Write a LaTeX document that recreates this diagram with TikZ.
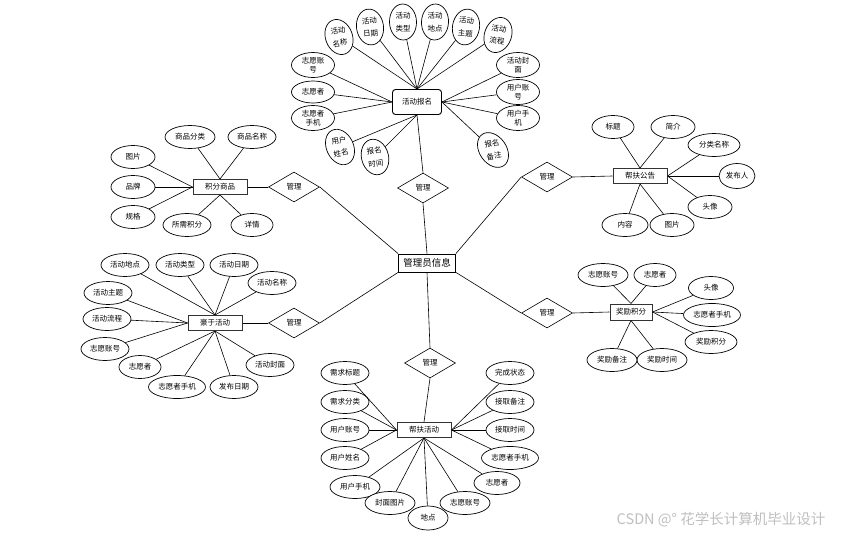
\documentclass[tikz,border=0pt]{standalone}
\usepackage{fontspec}
\newfontfamily\cjk{Noto Sans CJK SC}
\usetikzlibrary{shapes.geometric}
\begin{document}
\begin{tikzpicture}[x=1pt,y=-1pt,
  every node/.style={font=\cjk\fontsize{7.5}{8.6}\selectfont, inner sep=0pt, align=center},
  attr/.style={ellipse, draw, line width=0.7pt, fill=white, minimum height=23pt, minimum width=48pt},
  vattr/.style={ellipse, draw, line width=0.7pt, fill=white, minimum height=36pt, minimum width=27pt},
  vtext/.style={font=\cjk\fontsize{7.5}{12.5}\selectfont},
  hattr/.style={ellipse, draw, line width=0.7pt, fill=white, minimum height=25pt, minimum width=43pt},
  ent/.style={rectangle, draw=black!80, line width=1pt, fill=white, minimum width=54pt, minimum height=15pt},
  rel/.style={diamond, draw, line width=0.6pt, fill=white, minimum width=51pt, minimum height=30pt},
  lk/.style={line width=0.6pt}]
\useasboundingbox (0,0) rectangle (847,536);
\fill[white] (0,0) rectangle (847,536);

% central entity
\node[draw, line width=0.8pt, fill=white, minimum width=57pt, minimum height=18pt, font=\cjk\fontsize{9.5}{11}\selectfont] (M) at (427,263) {管理员信息};

% relations
\node[rel] (R1) at (423,188) {管理};
\node[rel] (R2) at (294,187) {管理};
\node[rel] (R3) at (547,177) {管理};
\node[rel] (R4) at (294,323) {管理};
\node[rel] (R5) at (547,313) {管理};
\node[rel] (R6) at (430,363) {管理};

% entities
\node[ent, rounded corners=3pt, minimum width=49pt, minimum height=25pt, line width=0.9pt, draw=black] (A) at (417,102) {活动报名};
\node[ent] (B) at (220,187) {积分商品};
\node[ent] (C) at (640,176) {帮扶公告};
\node[ent] (D) at (215,323) {豪于活动};
\node[ent, minimum width=42pt, minimum height=16pt] (E) at (631,312) {奖励积分};
\node[ent] (F) at (424,430) {帮扶活动};

% links centre
\draw[lk] (M.north) -- (R1.south);
\draw[lk] (R1.north) -- (A.south);
\draw[lk] (M.north west) -- (R2.east);
\draw[lk] (R2.west) -- (B.east);
\draw[lk] (M.north east) -- (R3.west);
\draw[lk] (R3.east) -- (C.west);
\draw[lk] (M.south west) -- (R4.east);
\draw[lk] (R4.west) -- (D.east);
\draw[lk] (M.south east) -- (R5.west);
\draw[lk] (R5.east) -- (E.west);
\draw[lk] (M.south) -- (R6.north);
\draw[lk] (R6.south) -- (F.north);

% attributes of A
\node[vattr, rotate=20] (a1) at (339,37) {};
\node[vtext, rotate=9] (t1) at (a1) {活动\\名称};
\node[vattr, rotate=8] (a2) at (370,27) {};
\node[vtext, rotate=5] (t2) at (a2) {活动\\日期};
\node[vattr, rotate=2] (a3) at (403,22) {};
\node[vtext] (t3) at (a3) {活动\\类型};
\node[vattr, rotate=-3] (a4) at (435,22) {};
\node[vtext] (t4) at (a4) {活动\\地点};
\node[vattr, rotate=-10] (a5) at (466,27) {};
\node[vtext, rotate=-5] (t5) at (a5) {活动\\主题};
\node[vattr, rotate=-20] (a6) at (498,35) {};
\node[vtext, rotate=-9] (t6) at (a6) {活动\\流程};
\node[hattr] (a7) at (518,65) {活动封\\面};
\node[hattr] (a8) at (518,92) {用户账\\号};
\node[hattr] (a9) at (518,118) {用户手\\机};
\node[vattr, rotate=35, minimum height=38pt] (a10) at (493,150) {};
\node[vtext, rotate=10] (t10) at (a10) {报名\\备注};
\node[vattr, rotate=15] (a11) at (375,157) {};
\node[vtext, rotate=8] (t11) at (a11) {报名\\时间};
\node[vattr, rotate=25, minimum height=37pt] (a12) at (340,147) {};
\node[vtext, rotate=10] (t12) at (a12) {用户\\姓名};
\node[hattr] (a13) at (313,118) {志愿者\\手机};
\node[hattr, minimum height=22pt] (a14) at (313,92) {志愿者};
\node[hattr] (a15) at (313,65) {志愿账\\号};
\foreach \i in {1,...,6} \draw[lk] (a\i) -- (A.north);
\foreach \i in {7,8,9,10} \draw[lk] (a\i) -- (A.east);
\foreach \i in {11,12} \draw[lk] (a\i) -- (A.south);
\foreach \i in {13,14,15} \draw[lk] (a\i) -- (A.west);

% attributes of B
\node[attr, minimum width=50pt] (b1) at (190,137) {商品分类};
\node[attr] (b2) at (252,137) {商品名称};
\node[attr, minimum width=44pt] (b3) at (133,157) {图片};
\node[attr, minimum width=44pt] (b4) at (133,187) {品牌};
\node[attr, minimum width=44pt] (b5) at (133,217) {规格};
\node[attr] (b6) at (187,225) {所需积分};
\node[attr, minimum width=42pt] (b7) at (252,225) {详情};
\foreach \i in {1,2} \draw[lk] (b\i) -- (B.north);
\foreach \i in {3,4,5} \draw[lk] (b\i) -- (B.west);
\foreach \i in {6,7} \draw[lk] (b\i) -- (B.south);

% attributes of C
\node[attr, minimum width=42pt] (c1) at (613,127) {标题};
\node[attr, minimum width=44pt] (c2) at (673,127) {简介};
\node[attr, minimum width=52pt] (c3) at (714,145) {分类名称};
\node[attr, minimum width=36pt, minimum height=25pt] (c4) at (737,176) {发布人};
\node[attr, minimum width=44pt] (c5) at (710,207) {头像};
\node[attr, minimum width=44pt] (c6) at (672,225) {图片};
\node[attr, minimum width=46pt] (c7) at (625,225) {内容};
\foreach \i in {1,2} \draw[lk] (c\i) -- (C.north);
\foreach \i in {3,4,5} \draw[lk] (c\i) -- (C.east);
\foreach \i in {6,7} \draw[lk] (c\i) -- (C.south);

% attributes of D
\node[attr] (d1) at (125,265) {活动地点};
\node[attr] (d2) at (180,265) {活动类型};
\node[attr] (d3) at (234,265) {活动日期};
\node[attr] (d4) at (272,283) {活动名称};
\node[attr] (d5) at (108,293) {活动主题};
\node[attr] (d6) at (107,319) {活动流程};
\node[attr] (d7) at (105,349) {志愿账号};
\node[attr, minimum width=42pt] (d8) at (140,367) {志愿者};
\node[attr, minimum width=57pt] (d9) at (177,387) {志愿者手机};
\node[attr] (d10) at (234,387) {发布日期};
\node[attr] (d11) at (270,365) {活动封面};
\foreach \i in {1,2,3,4} \draw[lk] (d\i) -- (D.north);
\foreach \i in {5,6,7} \draw[lk] (d\i) -- (D.west);
\foreach \i in {8,9,10,11} \draw[lk] (d\i) -- (D.south);

% attributes of E
\node[attr, minimum width=50pt] (e1) at (603,275) {志愿账号};
\node[attr, minimum width=42pt] (e2) at (655,275) {志愿者};
\node[attr, minimum width=45pt] (e3) at (711,288) {头像};
\node[attr, minimum width=57pt] (e4) at (712,315) {志愿者手机};
\node[attr, minimum width=52pt] (e5) at (711,342) {奖励积分};
\node[attr, minimum width=50pt] (e6) at (662,360) {奖励时间};
\node[attr, minimum width=50pt] (e7) at (612,360) {奖励备注};
\foreach \i in {1,2} \draw[lk] (e\i) -- (E.north);
\foreach \i in {3,4,5} \draw[lk] (e\i) -- (E.east);
\foreach \i in {6,7} \draw[lk] (e\i) -- (E.south);

% attributes of F
\node[attr] (f1) at (345,373) {需求标题};
\node[attr] (f2) at (345,402) {需求分类};
\node[attr] (f3) at (345,430) {用户账号};
\node[attr] (f4) at (345,458) {用户姓名};
\node[attr, minimum width=50pt] (f5) at (355,487) {用户手机};
\node[attr, minimum width=50pt] (f6) at (390,503) {封面图片};
\node[attr, minimum width=40pt, minimum height=24pt] (f7) at (428,518) {地点};
\node[attr, minimum width=50pt] (f8) at (465,503) {志愿账号};
\node[attr, minimum width=46pt] (f9) at (497,483) {志愿者};
\node[attr, minimum width=57pt] (f10) at (510,458) {志愿者手机};
\node[attr] (f11) at (510,430) {接取时间};
\node[attr] (f12) at (510,402) {接取备注};
\node[attr] (f13) at (510,373) {完成状态};
\foreach \i in {1,2,3,4} \draw[lk] (f\i) -- (F.west);
\foreach \i in {5,6,7,8,9} \draw[lk] (f\i) -- (F.south);
\foreach \i in {10,11,12,13} \draw[lk] (f\i) -- (F.east);

% watermark
\node[text=black!25, font=\cjk\fontsize{14.5}{16}\selectfont] (wm) at (721,520) {CSDN @° 花学长计算机毕业设计};
\end{tikzpicture}
\end{document}
